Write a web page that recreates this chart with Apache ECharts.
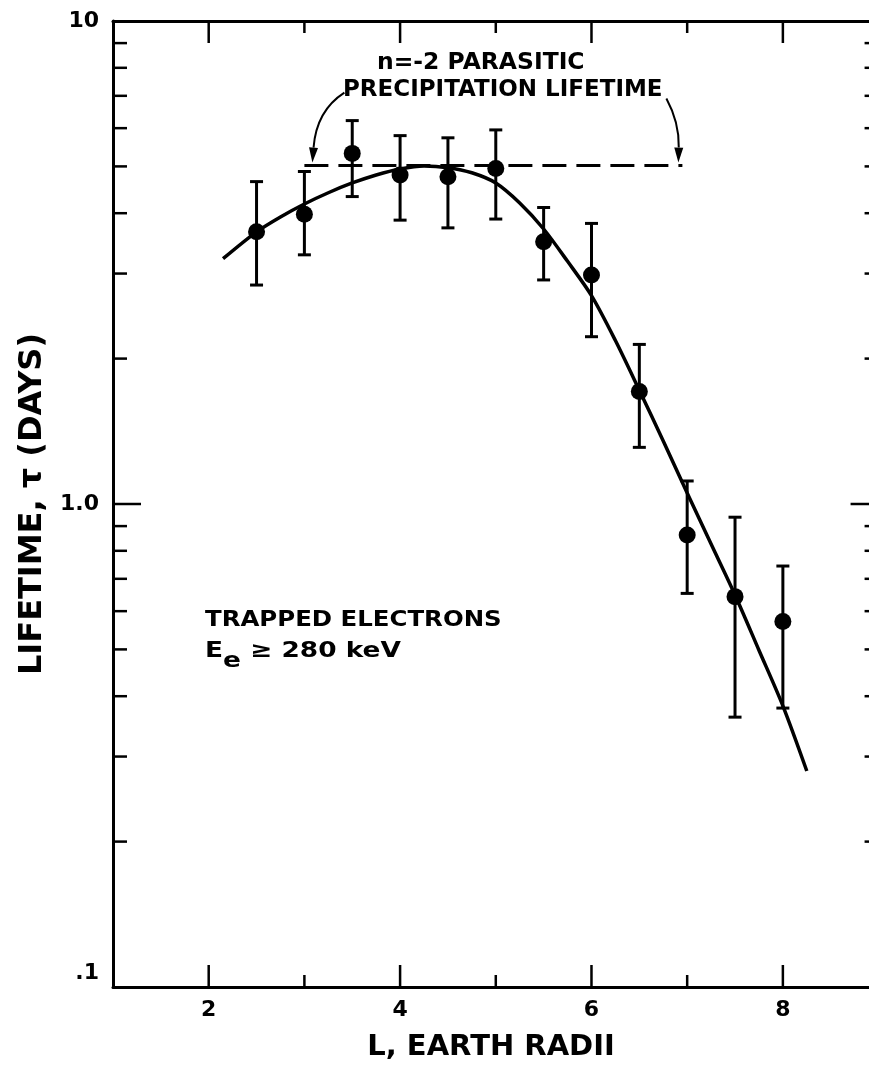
<!DOCTYPE html>
<html>
<head>
<meta charset="utf-8">
<script src="https://cdn.jsdelivr.net/npm/echarts@6/dist/echarts.min.js"></script>
<style>
  html, body { margin: 0; padding: 0; background: #fff; }
  #chart { width: 869px; height: 1079px; }
</style>
</head>
<body>
<div id="chart"></div>
<script>
// Measured lifetimes of trapped electrons versus L shell
const shells       = [2.5, 3, 3.5, 4, 4.5, 5, 5.5, 6, 6.5, 7, 7.5, 8];
const lifetime     = [3.66, 3.98, 5.32, 4.80, 4.76, 4.95, 3.49, 2.98, 1.71, 0.863, 0.643, 0.571];
const lifetimeLow  = [2.84, 3.28, 4.33, 3.87, 3.73, 3.89, 2.91, 2.22, 1.31, 0.653, 0.362, 0.378];
const lifetimeHigh = [4.65, 4.88, 6.22, 5.79, 5.73, 5.95, 4.11, 3.81, 2.14, 1.116, 0.939, 0.744];

// Smooth fitted curve
const fitL   = [2.15, 2.5, 2.75, 3, 3.25, 3.5, 3.75, 4, 4.25, 4.5, 4.75, 5, 5.25, 5.5, 5.75, 6, 6.25, 6.5, 6.75, 7, 7.25, 7.5, 7.75, 8, 8.25];
const fitTau = [3.22, 3.66, 3.93, 4.18, 4.41, 4.62, 4.80, 4.94, 5.01, 4.97, 4.85, 4.62, 4.20, 3.71, 3.18, 2.70, 2.18, 1.72, 1.35, 1.054, 0.826, 0.648, 0.498, 0.382, 0.280];

// n = -2 parasitic precipitation lifetime (dashed level)
const parasiticL   = [3, 6.95];
const parasiticTau = [5.02, 5.02];

// Axis ticks
const xLabelValues = [2, 4, 6, 8];
const xTicksMajor  = [2, 4, 6, 8];
const xTicksMinor  = [3, 5, 7];
const yTicksMajor  = [1];
const yTicksMinor  = [0.2, 0.3, 0.4, 0.5, 0.6, 0.7, 0.8, 0.9, 2, 3, 4, 5, 6, 7, 8, 9];
const yLabelText   = { '0.1': '{lo|.1}', '1': '1.0', '10': '10' };

const X_MIN = 1, X_MAX = 8.9, X_FRAME_RIGHT = 9;

const FONT = 'DejaVu Sans';
const INK = '#000';

const chart = echarts.init(document.getElementById('chart'), null, { renderer: 'canvas' });

// Inward tick marks on bottom and top edges
function xTickItem(params, api) {
  const cs = params.coordSys;
  const px = api.coord([api.value(0), 1])[0];
  const len = api.value(2) ? 22 : 12;
  const st = { stroke: INK, lineWidth: 2.5 };
  const bottom = cs.y + cs.height;
  return {
    type: 'group',
    children: [
      { type: 'line', shape: { x1: px, y1: bottom, x2: px, y2: bottom - len }, style: st },
      { type: 'line', shape: { x1: px, y1: cs.y, x2: px, y2: cs.y + len }, style: st }
    ]
  };
}

// Inward tick marks on left edge and on the right frame edge (L = 9)
function yTickItem(params, api) {
  const cs = params.coordSys;
  const py = api.coord([2, api.value(1)])[1];
  const rx = api.coord([X_FRAME_RIGHT, api.value(1)])[0];
  const len = api.value(2) ? 28 : 14;
  const st = { stroke: INK, lineWidth: 2.5 };
  return {
    type: 'group',
    children: [
      { type: 'line', shape: { x1: cs.x, y1: py, x2: cs.x + len, y2: py }, style: st },
      { type: 'line', shape: { x1: rx, y1: py, x2: rx - len, y2: py }, style: st }
    ]
  };
}

function errorBarItem(params, api) {
  const x = api.value(0);
  const lo = api.coord([x, api.value(1)]);
  const hi = api.coord([x, api.value(2)]);
  const w = 6.5;
  const st = { stroke: INK, lineWidth: 3 };
  return {
    type: 'group',
    children: [
      { type: 'line', shape: { x1: lo[0], y1: lo[1], x2: hi[0], y2: hi[1] }, style: st },
      { type: 'line', shape: { x1: lo[0] - w, y1: lo[1], x2: lo[0] + w, y2: lo[1] }, style: st },
      { type: 'line', shape: { x1: hi[0] - w, y1: hi[1], x2: hi[0] + w, y2: hi[1] }, style: st }
    ]
  };
}

const frameLine = { show: true, onZero: false, lineStyle: { color: INK, width: 3 } };

const option = {
  backgroundColor: '#fff',
  animation: false,
  grid: { left: 113, top: 21, right: 0, bottom: 92 },
  xAxis: [
    {
      type: 'value', min: X_MIN, max: X_MAX, interval: 1, position: 'bottom',
      name: 'L, EARTH RADII', nameLocation: 'middle', nameGap: 46,
      nameTextStyle: { fontFamily: FONT, fontSize: 29, fontWeight: 'bold', color: INK },
      axisLine: frameLine, axisTick: { show: false }, splitLine: { show: false },
      axisLabel: {
        margin: 12, fontFamily: FONT, fontSize: 22, fontWeight: 'bold', color: INK,
        showMaxLabel: false,
        formatter: v => (xLabelValues.indexOf(v) >= 0 ? String(v) : '')
      }
    },
    {
      type: 'value', min: X_MIN, max: X_MAX, interval: 1, position: 'top',
      axisLine: frameLine, axisTick: { show: false }, splitLine: { show: false },
      axisLabel: { show: false }
    }
  ],
  yAxis: {
    type: 'log', logBase: 10, min: 0.1, max: 10,
    name: 'LIFETIME, τ (DAYS)', nameLocation: 'middle', nameGap: 51, nameRotate: 90,
    nameTextStyle: { fontFamily: FONT, fontSize: 32, fontWeight: 'bold', color: INK },
    axisLine: frameLine, axisTick: { show: false }, splitLine: { show: false },
    minorTick: { show: false },
    axisLabel: {
      margin: 14, fontFamily: FONT, fontSize: 22, fontWeight: 'bold', color: INK,
      rich: { lo: { fontFamily: FONT, fontSize: 22, fontWeight: 'bold', color: INK, padding: [0, 0, 28, 0] } },
      formatter: v => {
        const key = String(+v.toPrecision(3));
        return yLabelText[key] || '';
      }
    }
  },
  series: [
    {
      name: 'x ticks', type: 'custom', renderItem: xTickItem, silent: true, clip: false,
      data: xTicksMajor.map(v => [v, 1, 1]).concat(xTicksMinor.map(v => [v, 1, 0])),
      encode: { x: 0, y: 1 }, z: 5
    },
    {
      name: 'y ticks', type: 'custom', renderItem: yTickItem, silent: true, clip: false,
      data: yTicksMajor.map(v => [2, v, 1]).concat(yTicksMinor.map(v => [2, v, 0])),
      encode: { x: 0, y: 1 }, z: 5
    },
    {
      name: 'parasitic lifetime', type: 'line', silent: true,
      data: parasiticL.map((l, i) => [l, parasiticTau[i]]),
      symbol: 'none',
      lineStyle: { color: INK, width: 3, type: [24, 10] }, z: 2
    },
    {
      name: 'fit', type: 'line', silent: true, smooth: 0.3,
      data: fitL.map((l, i) => [l, fitTau[i]]),
      symbol: 'none',
      lineStyle: { color: INK, width: 3.5 }, z: 3
    },
    {
      name: 'error bars', type: 'custom', renderItem: errorBarItem, silent: true,
      data: shells.map((l, i) => [l, lifetimeLow[i], lifetimeHigh[i]]),
      encode: { x: 0, y: [1, 2] }, z: 4
    },
    {
      name: 'lifetime', type: 'scatter', silent: true,
      data: shells.map((l, i) => [l, lifetime[i]]),
      symbol: 'circle', symbolSize: 17,
      itemStyle: { color: INK, opacity: 1 }, z: 6
    }
  ]
};

chart.setOption(option);

// Annotation text and the two curved pointers to the dashed level
const leftTip  = chart.convertToPixel({ gridIndex: 0 }, [parasiticL[0], parasiticTau[0]]);
const rightTip = chart.convertToPixel({ gridIndex: 0 }, [parasiticL[1], parasiticTau[1]]);

function pointer(tip, start, ctrl) {
  const dx = tip[0] - ctrl[0], dy = tip[1] - ctrl[1];
  const d = Math.hypot(dx, dy);
  const ux = dx / d, uy = dy / d;
  const L = 15, W = 4.5;
  const bx = tip[0] - ux * L, by = tip[1] - uy * L;
  return [
    {
      type: 'bezierCurve',
      shape: { x1: start[0], y1: start[1], x2: bx, y2: by, cpx1: ctrl[0], cpy1: ctrl[1] },
      style: { stroke: INK, lineWidth: 2, fill: null }
    },
    {
      type: 'polygon',
      shape: { points: [tip, [bx - uy * W, by + ux * W], [bx + uy * W, by - ux * W]] },
      style: { fill: INK }
    }
  ];
}

const lt = [leftTip[0] + 8, leftTip[1] - 3];
const rt = [rightTip[0] - 4, rightTip[1] - 3];

const labelFont = { fontFamily: FONT, fontWeight: 'bold', fill: INK };

chart.setOption({
  graphic: [
    {
      type: 'text', x: 377, y: 52, scaleX: 1.02,
      style: Object.assign({ text: 'n=-2 PARASITIC', fontSize: 23 }, labelFont)
    },
    {
      type: 'text', x: 343, y: 79, scaleX: 1.0,
      style: Object.assign({ text: 'PRECIPITATION LIFETIME', fontSize: 23 }, labelFont)
    },
    {
      type: 'text', x: 205, y: 609, scaleX: 1.11,
      style: Object.assign({ text: 'TRAPPED ELECTRONS', fontSize: 22 }, labelFont)
    },
    {
      type: 'text', x: 205, y: 640, scaleX: 1.2,
      style: Object.assign({
        text: '{b|E}{s|e}{b| ≥ 280 keV}',
        rich: {
          b: { fontFamily: FONT, fontWeight: 'bold', fontSize: 22, verticalAlign: 'top', fill: INK },
          s: { fontFamily: FONT, fontWeight: 'bold', fontSize: 22, verticalAlign: 'top', padding: [10, 0, 0, 0], fill: INK }
        }
      }, labelFont)
    }
  ].concat(
    pointer(lt, [lt[0] + 32, lt[1] - 70], [lt[0] + 4, lt[1] - 52]),
    pointer(rt, [rt[0] - 12, rt[1] - 64], [rt[0] + 1, rt[1] - 40])
  )
});
</script>
</body>
</html>
